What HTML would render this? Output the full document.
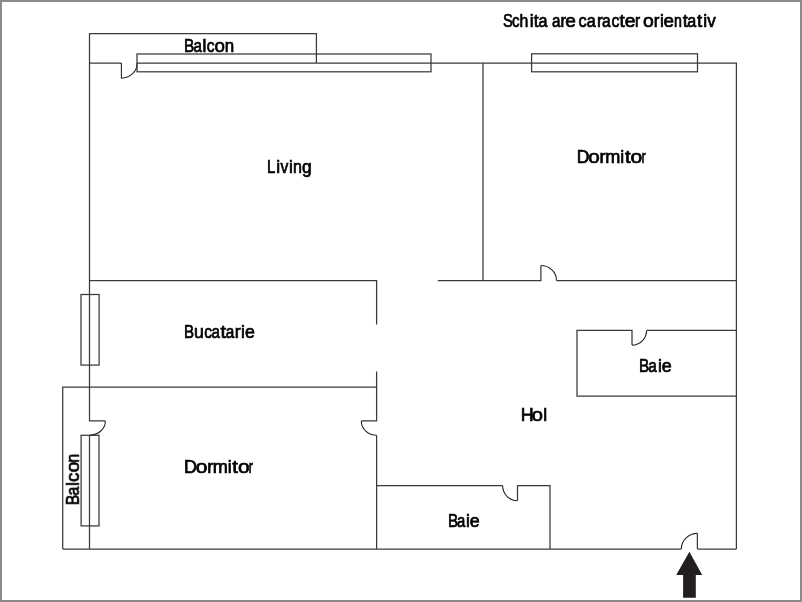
<!DOCTYPE html>
<html><head><meta charset="utf-8">
<style>
html,body{margin:0;padding:0;background:#fff;}
body{width:802px;height:602px;overflow:hidden;}
svg{display:block;}
text{font-family:"Liberation Sans",sans-serif;font-size:17.5px;fill:#000;stroke:#000;stroke-width:0.7px;}
</style></head>
<body>
<svg width="802" height="602" viewBox="0 0 802 602">
<rect x="1" y="1" width="800" height="600" fill="#fff" stroke="#8b8b8b" stroke-width="2"/>
<g fill="none" stroke="#3a3a3a" stroke-width="1.25" stroke-linecap="butt" stroke-linejoin="miter">
<path d="M89.5,63 V33.5 H316.4 V63"/>
<path d="M89.5,63 H121.4"/>
<path d="M137.2,63 H736.4 V549"/>
<path d="M89.5,63 V420.9 H105.4"/>
<path d="M89.5,435.2 V549"/>
<path d="M62.7,549 H681.4"/>
<path d="M697.4,549 H736.4"/>
<path d="M376.6,387.2 H62.7 V549"/>
<path d="M483,63 V280.6"/>
<path d="M89.5,280.5 H376.6 V324.6"/>
<path d="M437.8,280.6 H540.9 V265.5"/>
<path d="M556.5,280.6 H736.4"/>
<path d="M376.6,371.6 V420.9 H361.3"/>
<path d="M376.6,435.3 V549"/>
<path d="M376.6,485.6 H502.6"/>
<path d="M517.5,500.7 V485.6 H550 V549"/>
<path d="M736.4,330.4 H646.6"/>
<path d="M632,345.1 V330.4 H577 V396.1 H736.4"/>
<path d="M697.4,533.4 V549"/>
<rect x="137" y="54" width="294" height="17.8"/>
<rect x="531.6" y="53.8" width="165.9" height="18"/>
<rect x="81" y="294.5" width="18.1" height="70.6"/>
<rect x="81.1" y="435.3" width="17.9" height="90.6"/>
</g>
<g fill="none" stroke="#262626" stroke-width="1.1">
<path d="M121.4,62.9 V78.2 A15.8,15.3 0 0 0 137.2,62.9"/>
<path d="M105.4,420.9 A15.9,14.3 0 0 1 89.5,435.2"/>
<path d="M361.3,420.9 A15.3,14.4 0 0 0 376.6,435.3"/>
<path d="M540.9,265.5 A15.6,15.1 0 0 1 556.5,280.6"/>
<path d="M646.6,330.4 A14.6,14.7 0 0 1 632,345.1"/>
<path d="M502.6,485.6 A14.9,15.1 0 0 0 517.5,500.7"/>
<path d="M681.4,549 A16,15.6 0 0 1 697.4,533.4"/>
</g>
<path d="M689.4,551.8 L702.2,574.9 L695.8,574.9 L695.8,597.8 L683.1,597.8 L683.1,574.9 L676.2,574.9 Z" fill="#231f20"/>
<g opacity="0.999">
<text transform="translate(502.94,27) scale(0.839,1)">S</text>
<text transform="translate(512.10,27) scale(0.859,1)">c</text>
<text transform="translate(519.54,27) scale(0.903,1)">h</text>
<text transform="translate(529.65,27) scale(1.000,1)">i</text>
<text transform="translate(533.82,27) scale(1.011,1)">t</text>
<text transform="translate(538.60,27) scale(0.927,1)">a</text>
<text transform="translate(551.96,27) scale(0.867,1)">a</text>
<text transform="translate(560.38,27) scale(0.941,1)">r</text>
<text transform="translate(565.33,27) scale(1.090,1)">e</text>
<text transform="translate(578.48,27) scale(0.934,1)">c</text>
<text transform="translate(586.63,27) scale(0.921,1)">a</text>
<text transform="translate(596.88,27) scale(0.985,1)">r</text>
<text transform="translate(602.10,27) scale(0.889,1)">a</text>
<text transform="translate(611.53,27) scale(0.906,1)">c</text>
<text transform="translate(619.62,27) scale(1.091,1)">t</text>
<text transform="translate(624.64,27) scale(1.106,1)">e</text>
<text transform="translate(634.92,27) scale(0.878,1)">r</text>
<text transform="translate(642.90,27) scale(1.105,1)">o</text>
<text transform="translate(653.66,27) scale(0.964,1)">r</text>
<text transform="translate(660.00,27) scale(1.000,1)">i</text>
<text transform="translate(663.47,27) scale(1.071,1)">e</text>
<text transform="translate(673.97,27) scale(0.810,1)">n</text>
<text transform="translate(682.68,27) scale(1.070,1)">t</text>
<text transform="translate(687.37,27) scale(0.923,1)">a</text>
<text transform="translate(697.08,27) scale(1.070,1)">t</text>
<text transform="translate(703.25,27) scale(1.000,1)">i</text>
<text transform="translate(707.16,27) scale(0.972,1)">v</text>
<text transform="translate(183.88,52) scale(0.881,1)">B</text>
<text transform="translate(193.53,52) scale(0.864,1)">a</text>
<text transform="translate(202.55,52) scale(1.000,1)">l</text>
<text transform="translate(206.66,52) scale(0.888,1)">c</text>
<text transform="translate(214.57,52) scale(1.069,1)">o</text>
<text transform="translate(224.70,52) scale(0.966,1)">n</text>
<text transform="translate(267.01,173) scale(0.857,1)">L</text>
<text transform="translate(276.20,173) scale(1.000,1)">i</text>
<text transform="translate(280.40,173) scale(0.891,1)">v</text>
<text transform="translate(289.00,173) scale(1.000,1)">i</text>
<text transform="translate(292.94,173) scale(0.915,1)">n</text>
<text transform="translate(302.08,173) scale(0.991,1)">g</text>
<text transform="translate(576.73,163) scale(1.000,1)">D</text>
<text transform="translate(588.32,163) scale(1.179,1)">o</text>
<text transform="translate(599.57,163) scale(1.045,1)">r</text>
<text transform="translate(605.34,163) scale(1.036,1)">m</text>
<text transform="translate(620.25,163) scale(1.000,1)">i</text>
<text transform="translate(624.97,163) scale(1.151,1)">t</text>
<text transform="translate(630.43,163) scale(1.206,1)">o</text>
<text transform="translate(641.40,163) scale(0.727,1)">r</text>
<text transform="translate(184.11,338) scale(0.862,1)">B</text>
<text transform="translate(193.96,338) scale(1.016,1)">u</text>
<text transform="translate(204.14,338) scale(0.882,1)">c</text>
<text transform="translate(211.62,338) scale(0.867,1)">a</text>
<text transform="translate(220.49,338) scale(1.146,1)">t</text>
<text transform="translate(225.72,338) scale(0.875,1)">a</text>
<text transform="translate(234.70,338) scale(1.009,1)">r</text>
<text transform="translate(241.05,338) scale(1.000,1)">i</text>
<text transform="translate(244.93,338) scale(1.011,1)">e</text>
<text transform="translate(638.94,372) scale(0.874,1)">B</text>
<text transform="translate(648.36,372) scale(0.877,1)">a</text>
<text transform="translate(657.95,372) scale(1.000,1)">i</text>
<text transform="translate(661.63,372) scale(1.023,1)">e</text>
<text transform="translate(520.70,421) scale(1.022,1)">H</text>
<text transform="translate(531.77,421) scale(1.149,1)">o</text>
<text transform="translate(543.16,421) scale(1.000,1)">l</text>
<text transform="translate(183.90,473) scale(1.021,1)">D</text>
<text transform="translate(195.72,473) scale(1.198,1)">o</text>
<text transform="translate(207.17,473) scale(1.031,1)">r</text>
<text transform="translate(212.82,473) scale(1.032,1)">m</text>
<text transform="translate(227.75,473) scale(1.000,1)">i</text>
<text transform="translate(232.37,473) scale(1.152,1)">t</text>
<text transform="translate(237.92,473) scale(1.198,1)">o</text>
<text transform="translate(248.79,473) scale(0.728,1)">r</text>
<text transform="translate(447.94,527) scale(0.870,1)">B</text>
<text transform="translate(457.06,527) scale(0.850,1)">a</text>
<text transform="translate(466.00,527) scale(1.000,1)">i</text>
<text transform="translate(469.76,527) scale(1.019,1)">e</text>
<g transform="translate(78.90,503.90) rotate(-90)"><text transform="translate(-1.14,0) scale(0.899,1)">B</text><text transform="translate(8.59,0) scale(0.891,1)">a</text><text transform="translate(18.10,0) scale(1.000,1)">l</text><text transform="translate(21.89,0) scale(1.058,1)">c</text><text transform="translate(31.53,0) scale(1.107,1)">o</text><text transform="translate(41.25,0) scale(0.904,1)">n</text></g>
</g>
</svg>
</body></html>
